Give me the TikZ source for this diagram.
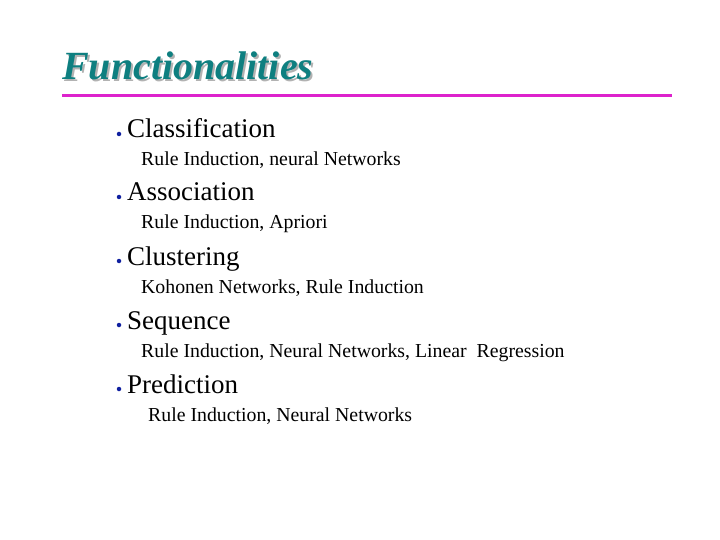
\documentclass[tikz,border=0pt]{standalone}
\usepackage{fontspec}
\setmainfont{Liberation Serif}
\definecolor{teal1}{HTML}{0E7F80}
\definecolor{mag}{HTML}{DD22CC}
\definecolor{bul}{HTML}{1020A0}
\begin{document}
\begin{tikzpicture}[x=1pt,y=-1pt,
  item/.style={anchor=base west,inner sep=0pt,font=\fontsize{27}{29}\selectfont},
  sub/.style={anchor=base west,inner sep=0pt,font=\fontsize{19.8}{22}\selectfont},
  dot/.style={circle,fill=bul,inner sep=0pt,minimum size=4.5pt}]
\useasboundingbox (0,0) rectangle (720,540);
\node[anchor=base west,inner sep=0pt,text=gray!60,font=\fontsize{40}{42}\selectfont\bfseries\itshape] (tsh) at (64,82) {Functionalities};
\node[anchor=base west,inner sep=0pt,text=teal1,font=\fontsize{40}{42}\selectfont\bfseries\itshape] (title) at (62,80) {Functionalities};
\coordinate (la) at (62,96); \coordinate (lb) at (672,96);
\draw[mag,line width=3] (la) -- (lb);
\foreach \y/\t/\s/\sx [count=\i] in {138/Classification/{Rule Induction, neural Networks}/141,
  201/Association/{Rule Induction, Apriori}/141,
  265/Clustering/{Kohonen Networks, Rule Induction}/141,
  329/Sequence/{Rule Induction, Neural Networks, Linear\ \ Regression}/141,
  393/Prediction/{Rule Induction, Neural Networks}/148}{
  \node[dot] (b\i) at (119,\y-4) {};
  \node[item] (i\i) at (127,\y) {\t};
  \node[sub] (s\i) at (\sx,\y+28) {\s};
}
\end{tikzpicture}
\end{document}
